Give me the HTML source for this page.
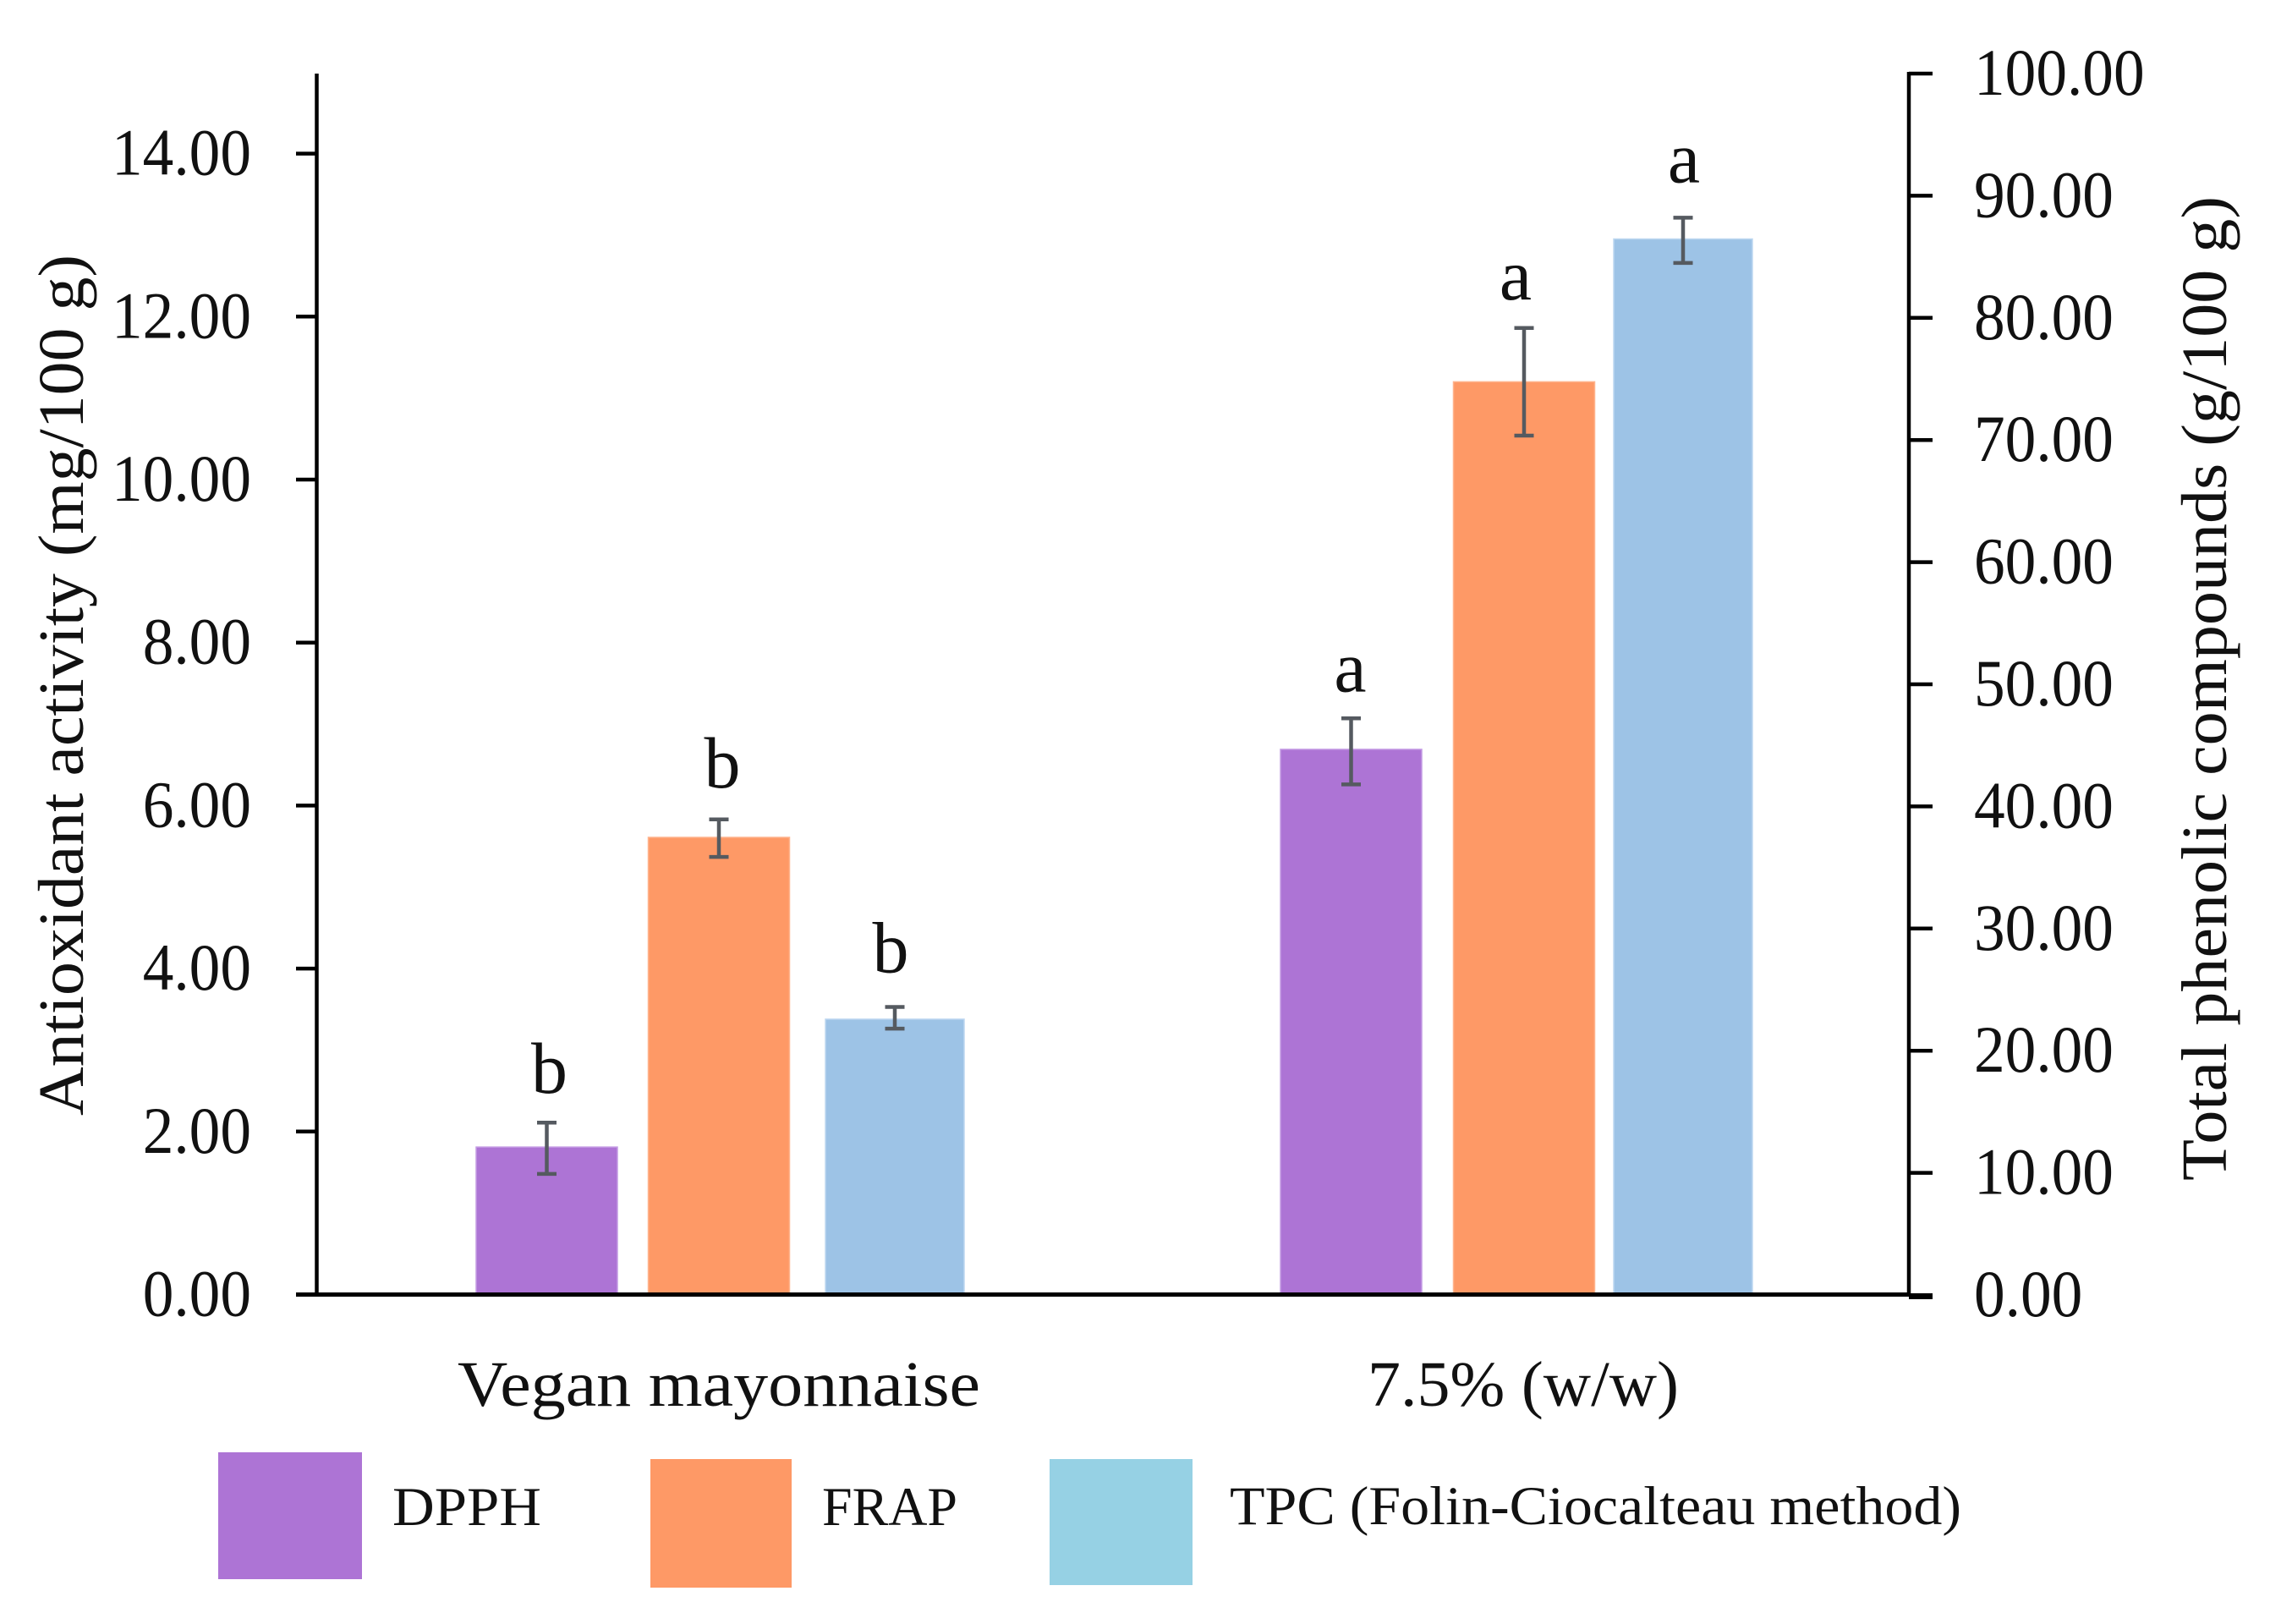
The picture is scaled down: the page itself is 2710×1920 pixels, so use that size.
<!DOCTYPE html>
<html lang="en">
<head>
<meta charset="utf-8">
<title>Antioxidant activity and total phenolic compounds</title>
<style>
html,body{margin:0;padding:0;background:#fff;}
svg{display:block;}
text{font-family:"Liberation Serif",serif;fill:#111;}
</style>
</head>
<body>
<svg id="chart" xmlns="http://www.w3.org/2000/svg" width="2710" height="1920" viewBox="0 0 2710 1920">
  <rect x="0" y="0" width="2710" height="1920" fill="#fff"/>
  <g id="bars"></g>
  <g id="errs"></g>
  <g id="letters"></g>
  <g id="axes"></g>

  <text transform="translate(98 1319) rotate(-90)" font-size="76" textLength="1018" lengthAdjust="spacingAndGlyphs">Antioxidant activity (mg/100 g)</text>
  <text transform="translate(2632 1396) rotate(-90)" font-size="76" textLength="1164" lengthAdjust="spacingAndGlyphs">Total phenolic compounds (g/100 g)</text>

  <rect x="258" y="1717" width="170" height="150" fill="#ad74d5"/>
  <text x="464" y="1803" font-size="65" textLength="176" lengthAdjust="spacingAndGlyphs">DPPH</text>
  <rect x="769" y="1725" width="167" height="152" fill="#fe9966"/>
  <text x="972" y="1803" font-size="65" textLength="160" lengthAdjust="spacingAndGlyphs">FRAP</text>
  <rect x="1241" y="1725" width="169" height="149" fill="#96d1e4"/>
  <text x="1454" y="1802" font-size="65" textLength="865" lengthAdjust="spacingAndGlyphs">TPC (Folin-Ciocalteau method)</text>
</svg>
<script>
const categories = ['Vegan mayonnaise', '7.5% (w/w)'];
const seriesNames = ['DPPH', 'FRAP', 'TPC'];
const dpphValues = [1.81, 6.69];
const frapValues = [5.61, 11.20];
const tpcValues = [22.58, 86.46];
const dpphErrHigh = [2.11, 7.07];
const dpphErrLow = [1.48, 6.26];
const frapErrHigh = [5.83, 11.86];
const frapErrLow = [5.37, 10.54];
const tpcErrHigh = [23.58, 88.20];
const tpcErrLow = [21.81, 84.50];
const dpphLetters = ['b', 'a'];
const frapLetters = ['b', 'a'];
const tpcLetters = ['b', 'a'];
const leftTicks = ['0.00', '2.00', '4.00', '6.00', '8.00', '10.00', '12.00', '14.00'];
const rightTicks = ['0.00', '10.00', '20.00', '30.00', '40.00', '50.00', '60.00', '70.00', '80.00', '90.00', '100.00'];

const NS = 'http://www.w3.org/2000/svg';
function yLeft(v) { return 1530.5 - v * 96.35; }
function yRight(v) { return 1531 - v * 14.44; }
function groupCenter(g) { return g === 0 ? 850 : 1802; }
function barOffset(g, s) {
  if (s === 0) return g === 0 ? -203.5 : -204.5;
  if (s === 1) return 0;
  return g === 0 ? 208 : 188;
}
function barWidth(s) { return s === 2 ? 164 : 167; }
function xBar(g, s) { return groupCenter(g) + barOffset(g, s); }
function make(tag, attrs, parent) {
  const el = document.createElementNS(NS, tag);
  for (const k in attrs) el.setAttribute(k, attrs[k]);
  parent.appendChild(el);
  return el;
}
function tickWidth(label) { return ((label.length - 1) * 0.5 + 0.25) * 78 * 0.94; }

const barsLayer = document.getElementById('bars');
const errsLayer = document.getElementById('errs');
const lettersLayer = document.getElementById('letters');
const axesLayer = document.getElementById('axes');

const fills = ['#ad74d5', '#fe9966', '#9dc3e6'];
const edges = ['#c49be4', '#ffb48e', '#bdd7f0'];
const valueArrays = [dpphValues, frapValues, tpcValues];
const highArrays = [dpphErrHigh, frapErrHigh, tpcErrHigh];
const lowArrays = [dpphErrLow, frapErrLow, tpcErrLow];
const letterArrays = [dpphLetters, frapLetters, tpcLetters];
const scales = [yLeft, yLeft, yRight];
const letterShift = [[[3, 2], [4, -1], [-5, -4]], [[-1, 5], [-10, 3], [1, -5]]];

categories.forEach(function (cat, g) {
  seriesNames.forEach(function (name, s) {
    const y = scales[s];
    const cx = xBar(g, s);
    const w = barWidth(s);
    const key = name.toLowerCase() + '-' + (g + 1);

    const bar = make('rect', { x: cx - w / 2, y: y(valueArrays[s][g]), width: w, height: y(0) - y(valueArrays[s][g]), fill: fills[s], stroke: edges[s], 'stroke-width': 1.5 }, barsLayer);
    
    

    const top = y(highArrays[s][g]);
    const bottom = y(lowArrays[s][g]);
    const err = make('path', { d: 'M' + (cx - 11.5) + ' ' + top + 'H' + (cx + 11.5) + 'M' + cx + ' ' + top + 'V' + bottom + 'M' + (cx - 11.5) + ' ' + bottom + 'H' + (cx + 11.5), fill: 'none', stroke: '#555a60', 'stroke-width': 4.5 }, errsLayer);
    
    

    const shift = letterShift[g][s];
    const letter = make('text', { x: cx + shift[0], y: top - 37 + shift[1], 'font-size': 86, 'text-anchor': 'middle' }, lettersLayer);
    letter.textContent = letterArrays[s][g];
    
    
  });
});

const leftAxis = make('line', { x1: 374.5, y1: 87, x2: 374.5, y2: 1532, stroke: '#000', 'stroke-width': 4.5 }, axesLayer);


const rightAxis = make('line', { x1: 2257, y1: 85, x2: 2257, y2: 1533, stroke: '#000', 'stroke-width': 4.5 }, axesLayer);


const xAxis = make('line', { x1: 350, y1: 1530.5, x2: 2257, y2: 1530.5, stroke: '#000', 'stroke-width': 5 }, axesLayer);



leftTicks.forEach(function (label) {
  const y = yLeft(parseFloat(label));
  const tick = make('line', { x1: 350, y1: y, x2: 375, y2: y, stroke: '#000', 'stroke-width': 4.5 }, axesLayer);
  
  
  const w = tickWidth(label);
  const text = make('text', { x: 297 - w, y: y + 25, 'font-size': 78, textLength: w, lengthAdjust: 'spacingAndGlyphs' }, axesLayer);
  text.textContent = label;
  
  
});

rightTicks.forEach(function (label) {
  const v = parseFloat(label);
  const y = yRight(v);
  const tick = make('line', { x1: 2257, y1: v === 0 ? y + 1.5 : y, x2: 2285, y2: v === 0 ? y + 1.5 : y, stroke: '#000', 'stroke-width': v === 0 ? 7 : 4.5 }, axesLayer);
  
  
  const text = make('text', { x: 2334, y: y + 25, 'font-size': 78, textLength: tickWidth(label), lengthAdjust: 'spacingAndGlyphs' }, axesLayer);
  text.textContent = label;
  
  
});

const catLabelWidths = [618, 368];
categories.forEach(function (cat, g) {
  const text = make('text', { x: groupCenter(g) + (g === 0 ? 0 : -1), y: 1662, 'font-size': 76, 'text-anchor': 'middle', textLength: catLabelWidths[g], lengthAdjust: 'spacingAndGlyphs' }, axesLayer);
  text.textContent = cat;
  
  
});
</script>
</body>
</html>
